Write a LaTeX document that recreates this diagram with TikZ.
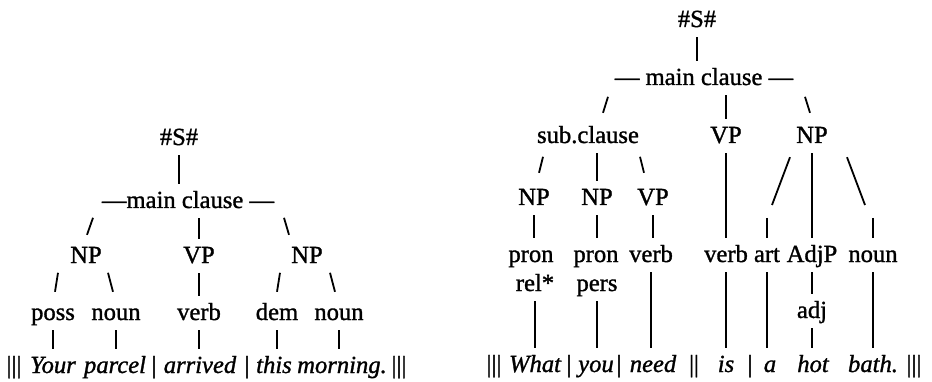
\documentclass[tikz,border=0pt]{standalone}
\usepackage{fontspec}
\setmainfont{Liberation Serif}[RawFeature={embolden=1.2}]
\tikzset{
  lab/.style={anchor=base,inner xsep=0pt,inner ysep=3pt,text height=17pt,text depth=5pt,font=\fontsize{24.6}{29}\selectfont},
  wd/.style={lab,font=\fontsize{24.6}{29}\selectfont\itshape},
  br/.style={line width=1.8pt,shorten <=2pt,shorten >=4pt},
  sl/.style={line width=1.8pt}
}
\begin{document}
\begin{tikzpicture}[x=1pt,y=-1pt]
\useasboundingbox (0,0) rectangle (932,382);
% left tree
\node (ls) [lab] at (179,145) {\#S\#};
\node (lmc) [lab] at (188,208) {---main clause ---};
\node (lnpa) [lab] at (86,263) {NP};
\node (lvp) [lab] at (199,263) {VP};
\node (lnpb) [lab] at (307,263) {NP};
\node (lposs) [lab] at (53,320) {poss};
\node (lnouna) [lab] at (116,320) {noun};
\node (lverb) [lab] at (199,320) {verb};
\node (ldem) [lab] at (277,320) {dem};
\node (lnounb) [lab] at (339,320) {noun};
%
\node (lsepa) [lab] at (14,373) {|||};
\node (lyour) [wd] at (53,373) {Your};
\node (lparcel) [wd] at (115,373) {parcel};
\node (lsepb) [lab] at (154,373) {|};
\node (larrived) [wd] at (200,373) {arrived};
\node (lsepc) [lab] at (247,373) {|};
\node (lthis) [wd] at (274,373) {this};
\node (lmorning) [wd] at (342,373) {morning.};
\node (lsepd) [lab] at (399,373) {|||};
%
\path[br] (ls) edge (ls |- lmc.north);
\path[br] (lvp |- lmc.south) edge (lvp);
\path[br] (lvp) edge (lverb);
\draw[sl] (lnpa.north) ++(1,-8) -- ++(6,-17);
\draw[sl] (lnpb.north) ++(-18,-8) -- ++(-5,-17);
\draw[sl] (lposs.north) ++(2,-8) -- ++(3,-19);
\draw[sl] (lnouna.north) ++(-3,-8) -- ++(-5,-19);
\draw[sl] (ldem.north) ++(0,-8) -- ++(3,-19);
\draw[sl] (lnounb.north) ++(-4,-8) -- ++(-5,-19);
\path[br] (lposs) edge (lposs |- lyour.north);
\path[br] (lnouna) edge (lnouna |- lparcel.north);
\path[br] (lverb) edge (lverb |- larrived.north);
\path[br] (ldem) edge (ldem |- lthis.north);
\path[br] (lnounb) edge (lnounb |- lmorning.north);
% right tree
\node (rs) [lab] at (697,27) {\#S\#};
\node (rmc) [lab] at (704,85) {--- main clause ---};
\node (rsub) [lab] at (588,143) {sub.clause};
\node (rvp) [lab] at (726,143) {VP};
\node (rnp) [lab] at (812,143) {NP};
\node (rnpa) [lab] at (534,205) {NP};
\node (rnpb) [lab] at (597,205) {NP};
\node (rvpb) [lab] at (653,205) {VP};
\node (rprona) [lab] at (531,262) {pron};
\node (rrel) [lab] at (535,291) {rel*};
\node (rpronb) [lab] at (596,262) {pron};
\node (rpers) [lab] at (597,291) {pers};
\node (rverba) [lab] at (651,262) {verb};
\node (rverbb) [lab] at (726,262) {verb};
\node (rart) [lab] at (767,262) {art};
\node (radjp) [lab] at (812,262) {AdjP};
\node (rnoun) [lab] at (873,262) {noun};
\node (radj) [lab] at (812,318) {adj};
\coordinate (kart) at (772,205);
\coordinate (knoun) at (865,205);
%
\node (rsepa) [lab] at (494,372) {|||};
\node (rwhat) [wd] at (535,372) {What};
\node (rsepb) [lab] at (569,372) {|};
\node (ryou) [wd] at (596,372) {you};
\node (rsepc) [lab] at (619,372) {|};
\node (rneed) [wd] at (653,372) {need};
\node (rsepd) [lab] at (694,372) {||};
\node (ris) [wd] at (726,372) {is};
\node (rsepe) [lab] at (750,372) {|};
\node (ra) [wd] at (770,372) {a};
\node (rhot) [wd] at (813,372) {hot};
\node (rbath) [wd] at (873,372) {bath.};
\node (rsepf) [lab] at (914,372) {|||};
%
\path[br] (rs) edge (rs |- rmc.north);
\draw[sl] (rsub.north) ++(15,-10) -- ++(5,-16);
\path[br] (rvp |- rmc.south) edge (rvp);
\draw[sl] (rnp.north) ++(-2,-10) -- ++(-5,-16);
\draw[sl] (rnpa.north) ++(5,-12) -- ++(4,-16);
\path[br] (rnpb |- rsub.south) edge (rnpb);
\draw[sl] (rvpb.north) ++(-9,-12) -- ++(-4,-16);
\path[br] (rvp) edge (rverbb);
\path[sl] ([shift={(-22,6)}]rnp.south) edge (kart);
\path[br] (rnp) edge (radjp);
\path[sl] ([shift={(35,6)}]rnp.south) edge (knoun);
\path[br] (rnpa) edge (rnpa |- rprona.north);
\path[br] (rnpb) edge (rnpb |- rpronb.north);
\path[br] (rvpb) edge (rvpb |- rverba.north);
\path[br,shorten <=13pt] (rart |- kart) edge (rart);
\path[br,shorten <=13pt] (rnoun |- knoun) edge (rnoun);
\path[br] (radjp) edge (radj);
\path[br] (rrel) edge (rrel |- rwhat.north);
\path[br] (rpers) edge (rpers |- ryou.north);
\path[br] (rverba) edge (rverba |- rneed.north);
\path[br] (rverbb) edge (ris);
\path[br] (rart) edge (rart |- ra.north);
\path[br] (radj) edge (radj |- rhot.north);
\path[br] (rnoun) edge (rbath);
\end{tikzpicture}
\end{document}
